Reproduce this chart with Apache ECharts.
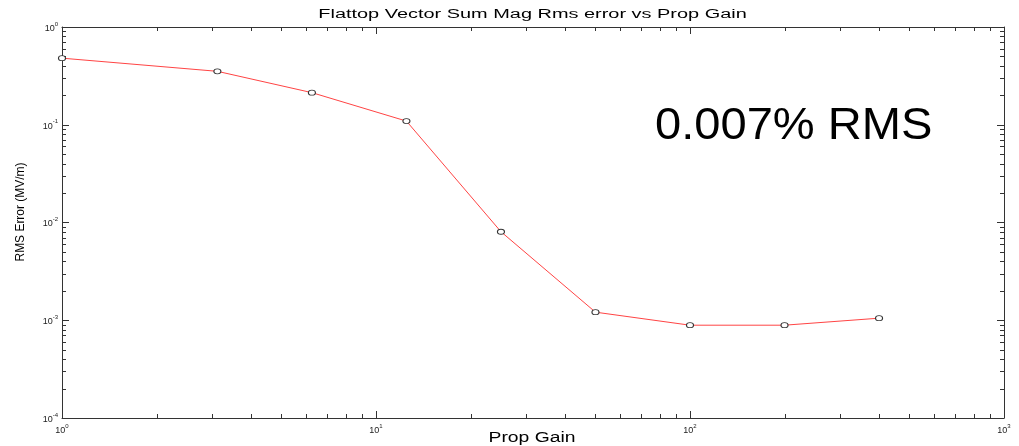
<!DOCTYPE html>
<html>
<head>
<meta charset="utf-8">
<script src="https://cdn.jsdelivr.net/npm/echarts@6/dist/echarts.min.js"></script>
<style>html,body{margin:0;padding:0;background:#fff;}#c{width:1019px;height:446px;}</style>
</head>
<body>
<div id="c"></div>
<script>
// ---- data ----
const propGain = [1, 3.125, 6.25, 12.5, 25, 50, 100, 200, 400];
const rmsError = [0.48, 0.352, 0.213, 0.109, 0.00805, 0.00121, 0.00089, 0.00089, 0.00105];
const titleText = 'Flattop Vector Sum Mag Rms error vs Prop Gain';
const xName = 'Prop Gain';
const yName = 'RMS Error (MV/m)';
const noteText = '0.007% RMS';
const xRange = [1, 1000];
const yRange = [1e-4, 1];
const minorMantissas = [2, 3, 4, 5, 6, 7, 8, 9];
const xDecades = [1, 10, 100];
const yDecades = [1e-4, 1e-3, 1e-2, 1e-1];

const xMinor = [];
xDecades.forEach(d => minorMantissas.forEach(m => xMinor.push([m * d, yRange[0]])));
const yMinor = [];
yDecades.forEach(d => minorMantissas.forEach(m => yMinor.push([xRange[0], +(m * d).toPrecision(3)])));

const FONT = '"Liberation Sans", Arial, Helvetica, sans-serif';
const AX = '#333';

function expLabel(v) {
  const e = Math.round(Math.log10(v));
  return '{b|10}{s|' + e + '}';
}
const richLbl = {
  b: { fontSize: 9, fontFamily: FONT, color: '#222', lineHeight: 12, verticalAlign: 'bottom' },
  s: { fontSize: 6, fontFamily: FONT, color: '#222', lineHeight: 12, verticalAlign: 'top' }
};

function baseX(pos, showLabel) {
  return {
    type: 'log', logBase: 10, min: xRange[0], max: xRange[1], position: pos,
    axisLine: { show: true, onZero: false, lineStyle: { color: AX, width: 1 } },
    axisTick: { show: true, inside: true, length: 7, lineStyle: { color: AX } },
    axisLabel: { show: showLabel, margin: 5, formatter: expLabel, rich: richLbl },
    splitLine: { show: false }, minorTick: { show: false }
  };
}
function baseY(pos, showLabel) {
  return {
    type: 'log', logBase: 10, min: yRange[0], max: yRange[1], position: pos,
    axisLine: { show: true, onZero: false, lineStyle: { color: AX, width: 1 } },
    axisTick: { show: true, inside: true, length: 7, lineStyle: { color: AX } },
    axisLabel: { show: showLabel, margin: 4, formatter: expLabel, rich: richLbl },
    splitLine: { show: false }, minorTick: { show: false }
  };
}

const chart = echarts.init(document.getElementById('c'), null, { renderer: 'canvas' });

function vline(x, y1, y2) {
  return { type: 'line', shape: { x1: x, y1: y1, x2: x, y2: y2 }, style: { stroke: AX, lineWidth: 1 } };
}
function hline(y, x1, x2) {
  return { type: 'line', shape: { x1: x1, y1: y, x2: x2, y2: y }, style: { stroke: AX, lineWidth: 1 } };
}

chart.setOption({
  animation: false,
  backgroundColor: '#fff',
  grid: { left: 62, right: 15, top: 27, bottom: 28, containLabel: false },
  xAxis: [baseX('bottom', true), baseX('top', false)],
  yAxis: [baseY('left', true), baseY('right', false)],
  series: [
    {
      type: 'line', xAxisIndex: 0, yAxisIndex: 0,
      data: propGain.map((g, i) => [g, rmsError[i]]),
      lineStyle: { color: '#ff4444', width: 1 },
      symbol: 'circle', symbolSize: [7, 5], showSymbol: true,
      itemStyle: { color: '#fff', borderColor: '#333', borderWidth: 1 },
      z: 3, silent: true
    },
    {
      type: 'custom', xAxisIndex: 0, yAxisIndex: 0, silent: true, clip: false,
      data: xMinor,
      renderItem: function (params, api) {
        const v = api.value(0);
        const pb = api.coord([v, yRange[0]]);
        const pt = api.coord([v, yRange[1]]);
        const x = Math.round(pb[0]) + 0.5;
        return { type: 'group', children: [vline(x, pb[1], pb[1] - 4), vline(x, pt[1], pt[1] + 4)] };
      }
    },
    {
      type: 'custom', xAxisIndex: 0, yAxisIndex: 0, silent: true, clip: false,
      data: yMinor,
      renderItem: function (params, api) {
        const v = api.value(1);
        const pl = api.coord([xRange[0], v]);
        const pr = api.coord([xRange[1], v]);
        const y = Math.round(pl[1]) + 0.5;
        return { type: 'group', children: [hline(y, pl[0], pl[0] + 4), hline(y, pr[0], pr[0] - 4)] };
      }
    }
  ],
  graphic: [
    { type: 'text', x: 532.5, y: 15, scaleX: 1.66, silent: true,
      style: { text: titleText, font: '12px ' + FONT, fill: '#000', align: 'center', verticalAlign: 'middle' } },
    { type: 'text', x: 532, y: 438, scaleX: 1.38, silent: true,
      style: { text: xName, font: '14px ' + FONT, fill: '#000', align: 'center', verticalAlign: 'middle' } },
    { type: 'text', x: 20, y: 212, rotation: Math.PI / 2, scaleX: 0.92, silent: true,
      style: { text: yName, font: '13px ' + FONT, fill: '#000', align: 'center', verticalAlign: 'middle' } },
    { type: 'text', x: 655, y: 127, scaleX: 1.07, silent: true,
      style: { text: noteText, font: '44px ' + FONT, fill: '#000', align: 'left', verticalAlign: 'middle' } }
  ]
});
</script>
</body>
</html>
